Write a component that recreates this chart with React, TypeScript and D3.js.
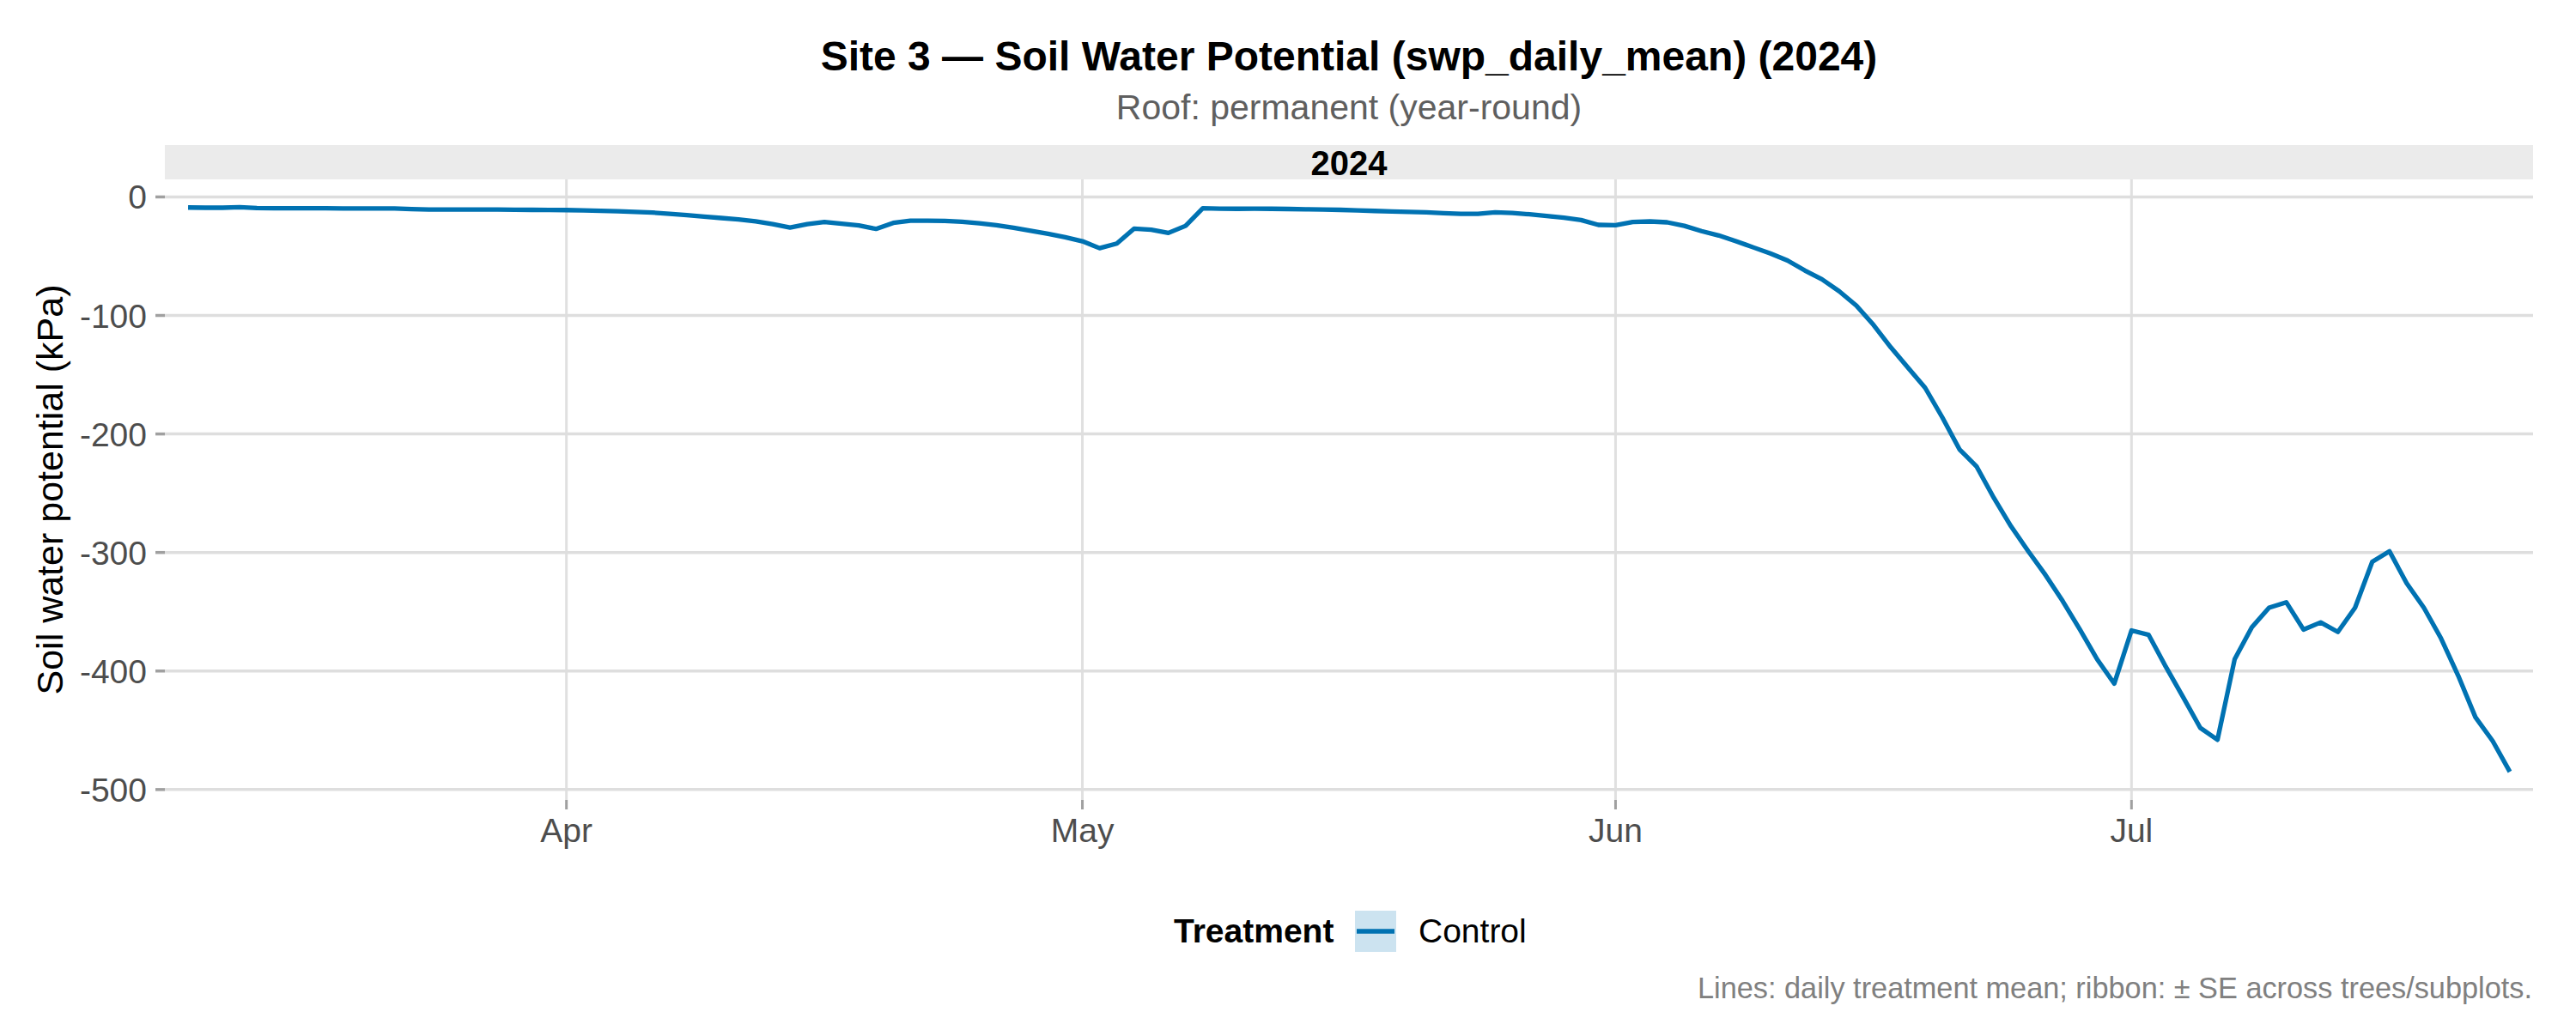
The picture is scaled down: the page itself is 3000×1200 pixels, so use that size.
import * as React from 'react';
import * as d3 from 'd3';

// Control — daily treatment mean soil water potential (kPa), one array per month
const marchValues = [
  -8.9, -9.1, -9.1, -8.6, -9.4, -9.5, -9.5, -9.5, -9.6, -9.7, -9.7, -9.8, -9.8,
  -10.3, -10.6, -10.6, -10.6, -10.7, -10.7, -10.8, -10.9, -11.0,
]; // Mar 10–31
const aprilValues = [
  -11.1, -11.3, -11.7, -12.1, -12.6, -13.2, -14.2, -15.3, -16.6, -17.8, -19.0,
  -20.6, -23.0, -25.8, -22.9, -21.2, -22.6, -24.0, -27.0, -21.9, -20.0, -20.0,
  -20.3, -21.0, -22.2, -23.9, -26.0, -28.5, -31.1, -34.0,
];
const mayValues = [
  -37.4, -43.2, -39.3, -26.8, -27.7, -30.4, -24.4, -9.6, -9.9, -10.0, -9.9,
  -10.0, -10.2, -10.4, -10.6, -10.9, -11.3, -11.8, -12.2, -12.6, -13.0, -13.7,
  -14.2, -14.2, -13.0, -13.5, -14.7, -16.1, -17.6, -19.5, -23.6,
];
const juneValues = [
  -23.9, -21.2, -20.7, -21.4, -24.4, -28.8, -32.5, -37.3, -42.5, -47.7, -53.6,
  -62.0, -69.5, -79.5, -91.6, -108.0, -126.8, -144.0, -161.0, -186.0, -213.0,
  -227.6, -254.0, -278.0, -299.0, -319.0, -341.0, -365.0, -390.0, -410.6,
];
const julyValues = [
  -365.8, -369.5, -396.5, -422.0, -448.0, -458.0, -390.0, -363.0, -346.6,
  -342.0, -365.0, -359.0, -367.0, -346.6, -307.8, -299.0, -326.0, -346.6,
  -372.5, -404.0, -439.0, -459.0, -485.0,
]; // Jul 1–23

const firstDay = Date.UTC(2024, 2, 10);
const yTicks = [0, -100, -200, -300, -400, -500];
const monthTicks = [
  new Date(Date.UTC(2024, 3, 1)),
  new Date(Date.UTC(2024, 4, 1)),
  new Date(Date.UTC(2024, 5, 1)),
  new Date(Date.UTC(2024, 6, 1)),
];

const title = 'Site 3 \u2014 Soil Water Potential (swp_daily_mean) (2024)';
const subtitle = 'Roof: permanent (year-round)';
const stripLabel = '2024';
const yLabel = 'Soil water potential (kPa)';
const legendTitle = 'Treatment';
const seriesName = 'Control';
const caption = 'Lines: daily treatment mean; ribbon: \u00b1 SE across trees/subplots.';

interface Point {
  date: Date;
  value: number;
}

const DAY = 86400000;
const values = [...marchValues, ...aprilValues, ...mayValues, ...juneValues, ...julyValues];
const data: Point[] = values.map((v, i) => ({ date: new Date(firstDay + i * DAY), value: v }));

const FONT = '"Liberation Sans", Arial, Helvetica, sans-serif';
const BLUE = '#0072B2';

const App = () => {
  const width = 3000;
  const height = 1200;
  const panel = { left: 192, right: 2950, top: 209, bottom: 932 };
  const strip = { top: 169, bottom: 209 };

  const x = d3
    .scaleUtc()
    .domain([new Date(firstDay - 1.35 * DAY), new Date(firstDay + (values.length - 1 + 1.35) * DAY)])
    .range([panel.left, panel.right]);

  const y = d3.scaleLinear().domain([-508.8, 14.8]).range([panel.bottom, panel.top]);

  const line = d3
    .line<Point>()
    .x((d) => x(d.date))
    .y((d) => y(d.value));

  const cx = (panel.left + panel.right) / 2;
  const cy = (panel.top + panel.bottom) / 2;

  return (
    <svg
      width={width}
      height={height}
      style={{ position: 'absolute', left: 0, top: 0, display: 'block', background: '#fff' }}
      fontFamily={FONT}
    >
      <rect width={width} height={height} fill="#fff" />

      {/* titles */}
      <text x={cx} y={82} textAnchor="middle" fontSize={48} fontWeight="bold" fill="#000">
        {title}
      </text>
      <text x={cx} y={139} textAnchor="middle" fontSize={41} fill="#5f5f5f">
        {subtitle}
      </text>

      {/* facet strip */}
      <rect
        x={panel.left}
        y={strip.top}
        width={panel.right - panel.left}
        height={strip.bottom - strip.top}
        fill="#EBEBEB"
      />
      <text x={cx} y={204} textAnchor="middle" fontSize={40} fontWeight="bold" fill="#000">
        {stripLabel}
      </text>

      {/* grid */}
      {monthTicks.map((d) => (
        <line
          key={'v' + d.getTime()}
          x1={x(d)}
          x2={x(d)}
          y1={panel.top}
          y2={panel.bottom}
          stroke="#E0E0E0"
          strokeWidth={3}
        />
      ))}
      {yTicks.map((t) => (
        <line
          key={'h' + t}
          x1={panel.left}
          x2={panel.right}
          y1={y(t)}
          y2={y(t)}
          stroke="#DEDEDE"
          strokeWidth={3.5}
        />
      ))}

      {/* y axis */}
      {yTicks.map((t) => (
        <g key={'yt' + t}>
          <line x1={181} x2={panel.left} y1={y(t)} y2={y(t)} stroke="#A0A0A0" strokeWidth={3.5} />
          <text x={171} y={y(t)} dy="0.36em" textAnchor="end" fontSize={39} fill="#4D4D4D">
            {String(t)}
          </text>
        </g>
      ))}
      <text
        transform={`translate(73, ${cy}) rotate(-90)`}
        textAnchor="middle"
        fontSize={43}
        fill="#000"
      >
        {yLabel}
      </text>

      {/* x axis */}
      {monthTicks.map((d) => (
        <g key={'xt' + d.getTime()}>
          <line x1={x(d)} x2={x(d)} y1={panel.bottom} y2={943} stroke="#A0A0A0" strokeWidth={3} />
          <text x={x(d)} y={981} textAnchor="middle" fontSize={39} fill="#4D4D4D">
            {d3.utcFormat('%b')(d)}
          </text>
        </g>
      ))}

      {/* series */}
      <path
        d={line(data) ?? ''}
        fill="none"
        stroke={BLUE}
        strokeWidth={5.3}
        strokeLinejoin="round"
        strokeLinecap="butt"
      />

      {/* legend */}
      <text x={1367} y={1098} fontSize={39} fontWeight="bold" fill="#000">
        {legendTitle}
      </text>
      <rect x={1578} y={1061} width={48} height={48} fill="#CCE3F0" />
      <line x1={1580} x2={1624} y1={1085} y2={1085} stroke={BLUE} strokeWidth={5.3} />
      <text x={1652} y={1098} fontSize={39} fill="#000">
        {seriesName}
      </text>

      {/* caption */}
      <text x={2949} y={1163} textAnchor="end" fontSize={34.3} fill="#808080">
        {caption}
      </text>
    </svg>
  );
};

export default App;
